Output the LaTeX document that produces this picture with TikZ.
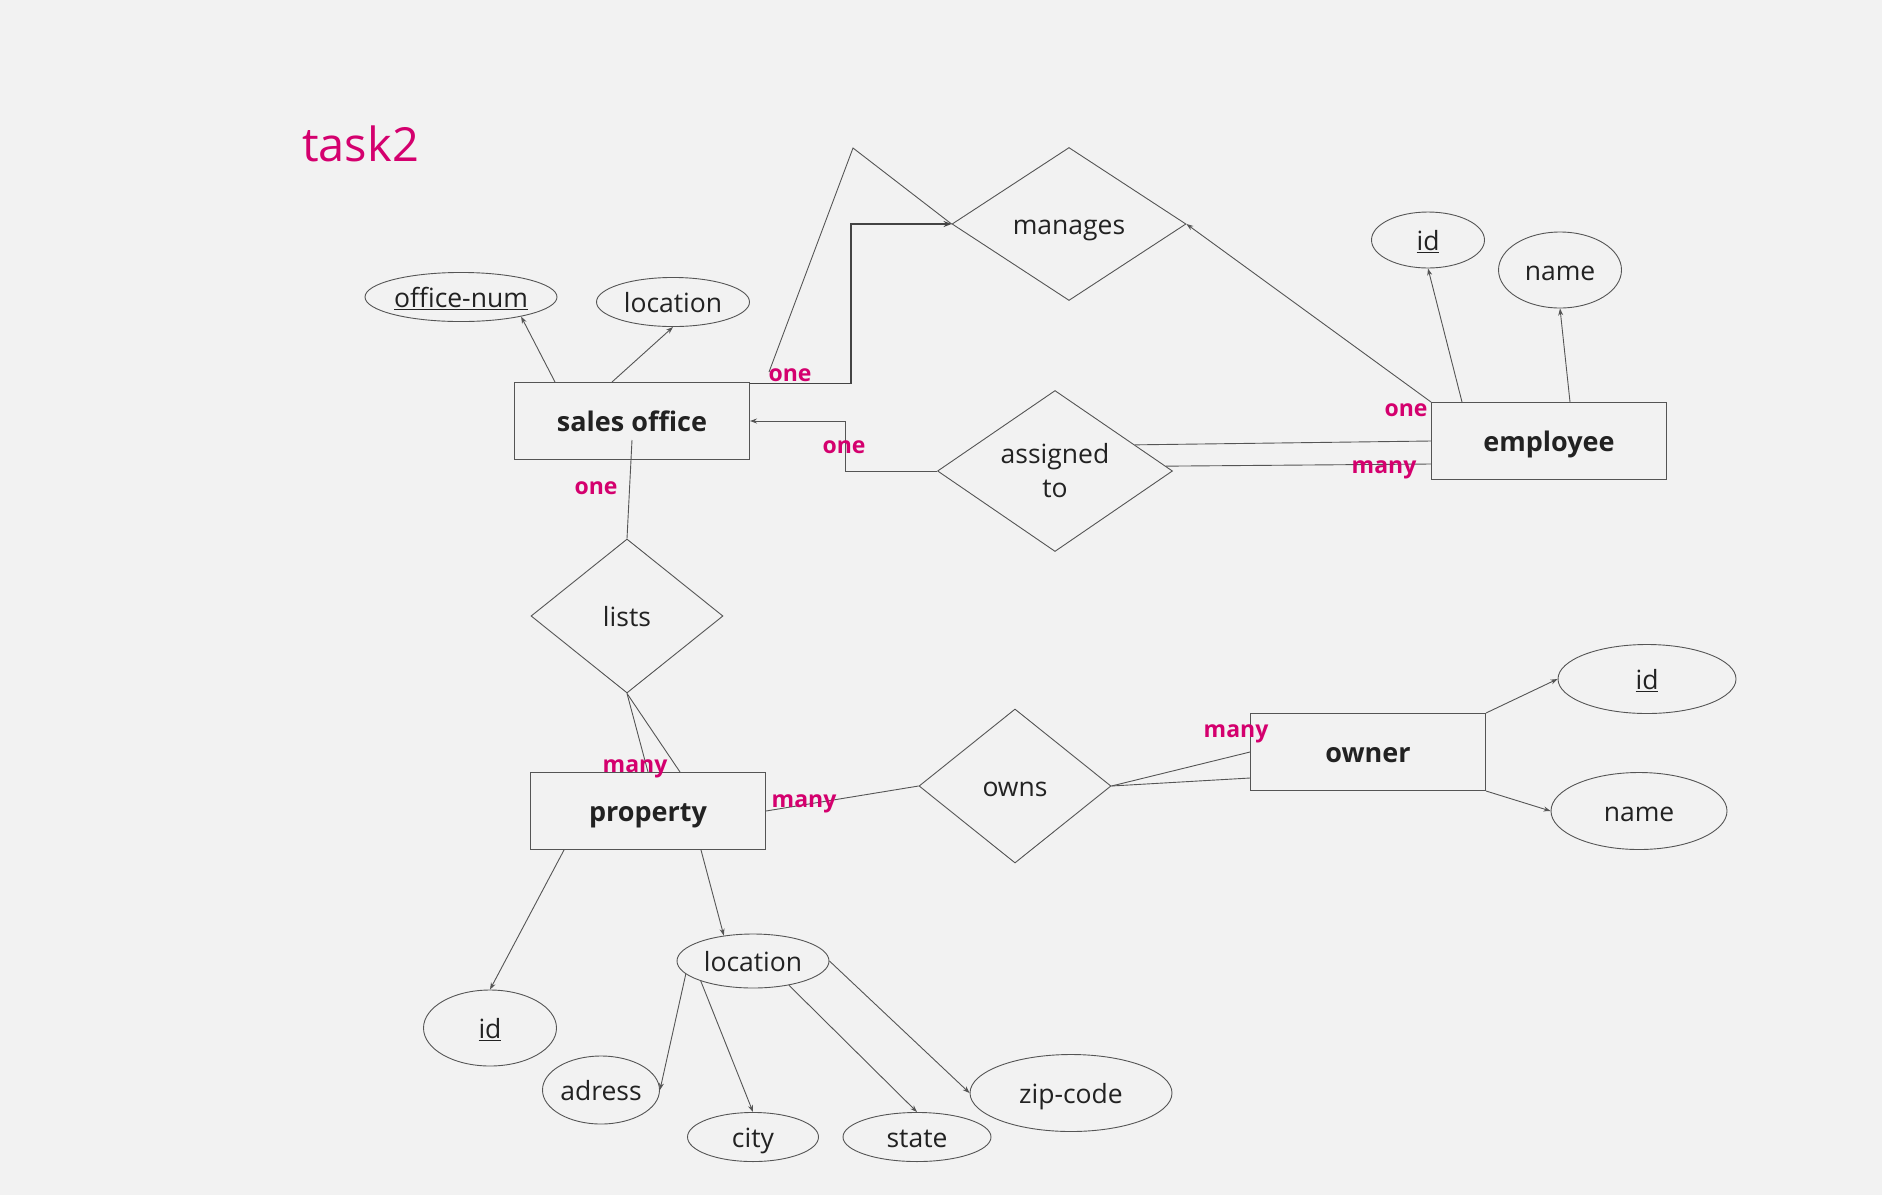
\documentclass[tikz,border=0pt]{standalone}
\usepackage{fontspec}
\setmainfont{Open Sans}
\usetikzlibrary{shapes.geometric,arrows.meta,calc}
\definecolor{bg}{HTML}{F2F2F2}
\definecolor{pinkc}{RGB}{212,0,110}
\definecolor{linec}{HTML}{555555}
\definecolor{txt}{HTML}{222222}
\begin{document}
\begin{tikzpicture}[x=1pt,y=-1pt,
  fixtext/.style={text height=28pt, text depth=6.7pt},
  entity/.style={draw=linec, line width=1pt, rectangle, minimum width=235pt, minimum height=77pt, inner sep=0pt, font=\fontsize{27}{32}\selectfont\bfseries, text=txt, fixtext},
  rel/.style={draw=linec, line width=0.9pt, diamond, aspect=1.5, inner sep=0pt, font=\fontsize{26.5}{34}\selectfont, text=txt, align=center, fixtext},
  attr/.style={draw=linec, line width=0.9pt, ellipse, inner sep=0pt, font=\fontsize{26.5}{32}\selectfont, text=txt, fixtext},
  conn/.style={draw=linec, line width=0.9pt},
  arr/.style={conn, -{Stealth[length=7pt,width=5pt]}},
  card/.style={text=pinkc, font=\fontsize{23}{28}\selectfont\bfseries, anchor=base, inner sep=0pt},
]
\useasboundingbox (0,0) rectangle (1882,1195);
\fill[bg] (0,0) rectangle (1882,1195);

\node[anchor=base west, text=pinkc, font=\fontsize{47}{56}\selectfont, inner sep=0pt] (title) at (302,161) {task2};

% entities
\node[entity] (so) at (632,421) {sales office};
\node[entity] (emp) at (1549,441) {employee};
\node[entity] (prop) at (648,811) {property};
\node[entity] (own) at (1368,752) {owner};

% relationships
\node[rel, minimum width=234pt, minimum height=153pt] (man) at (1069,224) {manages};
\node[rel, minimum width=235pt, minimum height=161pt, text height={}, text depth={}] (asg) at (1055,471) {assigned\\to};
\node[rel, minimum width=192pt, minimum height=154pt] (lists) at (627,616) {lists};
\node[rel, minimum width=192pt, minimum height=154pt] (owns) at (1015,786) {owns};

% attributes
\node[attr, minimum width=192pt, minimum height=45pt] (offnum) at (461,297) {\underline{office-num}};
\node[attr, minimum width=153pt, minimum height=39pt] (sloc) at (673,302) {location};
\node[attr, minimum width=113pt, minimum height=56pt] (eid) at (1428,240) {\underline{id}};
\node[attr, minimum width=123pt, minimum height=76pt] (ename) at (1560,270) {name};
\node[attr, minimum width=178pt, minimum height=69pt] (oid) at (1647,679) {\underline{id}};
\node[attr, minimum width=176pt, minimum height=77pt] (oname) at (1639,811) {name};
\node[attr, minimum width=133pt, minimum height=76pt] (pid) at (490,1028) {\underline{id}};
\node[attr, minimum width=152pt, minimum height=54pt] (ploc) at (753,961) {location};
\node[attr, minimum width=117pt, minimum height=68pt] (adr) at (601,1090) {adress};
\node[attr, minimum width=131pt, minimum height=46pt] (city) at (753,1137) {city};
\node[attr, minimum width=148pt, minimum height=46pt] (state) at (917,1137) {state};
\node[attr, minimum width=202pt, minimum height=77pt] (zip) at (1071,1093) {zip-code};

% connectors
\draw[arr] ([xshift=-77pt]so.north) -- (offnum.-18);
\draw[arr] ([xshift=-20pt]so.north) -- (sloc.south);
\coordinate (m1) at (769,372);
\coordinate (m2) at (853,148);
\draw[conn] (m1) -- (m2) -- (man.west);
\draw[conn, line width=1.3pt, draw=linec!80!black, -{Stealth[length=8pt,width=6pt]}] ([yshift=-1.5pt]so.north east) -- ++(101,0) |- (man.west);
\draw[arr] (emp.north west) -- (man.east);
\draw[arr] (asg.west) -- ++(-92,0) |- (so.east);
\draw[conn] (emp.west) -- ($(asg.east)!0.323!(asg.north)$);
\draw[conn] ([yshift=-23pt]emp.west) -- ($(asg.east)!0.06!(asg.north)$);
\draw[conn] ([yshift=-19pt]so.center) -- (lists.north);
\draw[conn] (lists.south) -- (prop.north);
\draw[conn] (lists.south) -- ([xshift=32pt]prop.north);
\draw[conn] (prop.east) -- (owns.west);
\draw[conn] (owns.east) -- (own.west);
\draw[conn] (owns.east) -- ([yshift=-26pt]own.west);
\draw[arr] (own.north east) -- (oid.west);
\draw[arr] (own.south east) -- (oname.west);
\draw[arr] ([xshift=-87pt]emp.north) -- (eid.south);
\draw[arr] ([xshift=21pt]emp.north) -- (ename.south);
\draw[arr] ([xshift=-84pt]prop.south) -- (pid.north);
\draw[arr] ([xshift=53pt]prop.south) -- (ploc.139);
\draw[arr] (ploc.191.8) -- (adr.east);
\draw[arr] (ploc.201.6) -- (city.north);
\draw[arr] (ploc.-34.8) -- (state.north);
\draw[arr] (ploc.east) -- (zip.west);

% cardinalities
\node[card] (c1) at (790,381) {one};
\node[card] (c2) at (844,453) {one};
\node[card] (c3) at (596,494) {one};
\node[card] (c4) at (1406,416) {one};
\node[card] (c5) at (1384,473) {many};
\node[card] (c6) at (635,772) {many};
\node[card] (c7) at (804,807) {many};
\node[card] (c8) at (1236,737) {many};
\end{tikzpicture}
\end{document}
